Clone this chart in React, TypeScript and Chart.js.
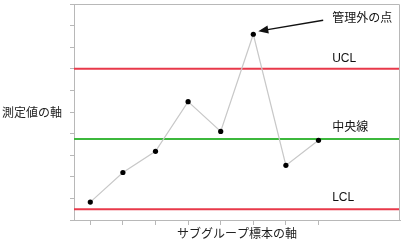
import React, { useEffect, useRef } from "react";
import { Chart, registerables } from "chart.js";

Chart.register(...registerables);

const subgroups = [0.5, 1.5, 2.5, 3.5, 4.5, 5.5, 6.5, 7.5];
const measurements = [0.83, 2.2, 3.18, 5.48, 4.1, 8.6, 2.53, 3.69];
const yTicks = [0, 1, 2, 3, 4, 5, 6, 7, 8, 9, 10];
const UCL = 7;
const CL = 3.75;
const LCL = 0.5;
const xMin = 0;
const xMax = 10;
const outlierIndex = 5;
const labels = { ucl: "UCL", cl: "中央線", lcl: "LCL", outlier: "管理外の点" };
const yTitle = "測定値の軸";
const xTitle = "サブグループ標本の軸";

const FONT = '"Liberation Sans", "Noto Sans CJK JP", sans-serif';

const annotationPlugin = {
  id: "spcAnnotations",
  afterDraw(chart: any) {
    const { ctx, chartArea, scales } = chart;
    const xs = scales.x;
    const ys = scales.y;
    ctx.save();
    // frame top/right
    ctx.strokeStyle = "#b8b8b8";
    ctx.lineWidth = 1;
    ctx.beginPath();
    ctx.moveTo(chartArea.left, chartArea.top + 0.5);
    ctx.lineTo(chartArea.right - 0.5, chartArea.top + 0.5);
    ctx.lineTo(chartArea.right - 0.5, chartArea.bottom);
    ctx.stroke();

    ctx.fillStyle = "#111";
    ctx.font = `12px ${FONT}`;
    ctx.textBaseline = "middle";
    ctx.textAlign = "left";
    const tx = xs.getPixelForValue(7.92);
    ctx.fillText(labels.ucl, tx, ys.getPixelForValue(UCL) - 10.5);
    ctx.fillText(labels.cl, tx, ys.getPixelForValue(CL) - 11.5);
    ctx.fillText(labels.lcl, tx, ys.getPixelForValue(LCL) - 11.5);
    const py = ys.getPixelForValue(measurements[outlierIndex]);
    const px = xs.getPixelForValue(subgroups[outlierIndex]);
    ctx.fillText(labels.outlier, tx, py - 16);

    // arrow
    const sx = tx - 9;
    const sy = py - 14;
    const ex = px + 5;
    const ey = py - 3;
    const ang = Math.atan2(ey - sy, ex - sx);
    ctx.strokeStyle = "#111";
    ctx.lineWidth = 1.3;
    ctx.beginPath();
    ctx.moveTo(sx, sy);
    ctx.lineTo(ex - 8 * Math.cos(ang), ey - 8 * Math.sin(ang));
    ctx.stroke();
    ctx.beginPath();
    ctx.moveTo(ex, ey);
    ctx.lineTo(ex - 10 * Math.cos(ang) + 4 * Math.sin(ang), ey - 10 * Math.sin(ang) - 4 * Math.cos(ang));
    ctx.lineTo(ex - 10 * Math.cos(ang) - 4 * Math.sin(ang), ey - 10 * Math.sin(ang) + 4 * Math.cos(ang));
    ctx.closePath();
    ctx.fillStyle = "#111";
    ctx.fill();

    // axis titles
    ctx.fillStyle = "#222";
    ctx.font = `12px ${FONT}`;
    ctx.textAlign = "left";
    ctx.fillText(yTitle, 2, (chartArea.top + chartArea.bottom) / 2 + 2);
    ctx.textAlign = "center";
    ctx.fillText(xTitle, (chartArea.left + chartArea.right) / 2, 235);
    ctx.restore();
  },
};

export default function App() {
  const ref = useRef<HTMLCanvasElement | null>(null);
  useEffect(() => {
    if (!ref.current) return;
    const hline = (v: number, color: string) => ({
      data: [
        { x: xMin, y: v },
        { x: xMax, y: v },
      ],
      borderColor: color,
      borderWidth: 2,
      pointRadius: 0,
      showLine: true,
      order: 2,
    });
    const chart = new Chart(ref.current, {
      type: "scatter",
      data: {
        datasets: [
          hline(UCL, "#e8394a"),
          hline(CL, "#3cb83c"),
          hline(LCL, "#e8394a"),
          {
            data: subgroups.map((x, i) => ({ x, y: measurements[i] })),
            showLine: true,
            borderColor: "#c8c8c8",
            borderWidth: 1.2,
            pointRadius: 2.6,
            pointBackgroundColor: "#000",
            pointBorderColor: "#000",
            pointBorderWidth: 0,
            order: 1,
          },
        ],
      },
      options: {
        animation: false,
        responsive: false,
        maintainAspectRatio: false,
        layout: { padding: { left: 70, right: 6, top: 4, bottom: 22 } },
        plugins: { legend: { display: false }, tooltip: { enabled: false } },
        scales: {
          x: {
            type: "linear",
            min: xMin,
            max: xMax,
            afterBuildTicks: (s: any) => {
              s.ticks = subgroups.map((v) => ({ value: v }));
            },
            afterFit: (s: any) => {
              s.height = 5;
            },
            ticks: { display: false },
            grid: { drawOnChartArea: false, drawTicks: true, tickLength: 5, color: "#b8b8b8" },
            border: { display: true, color: "#b8b8b8" },
          },
          y: {
            type: "linear",
            min: yTicks[0],
            max: yTicks[yTicks.length - 1],
            afterBuildTicks: (s: any) => {
              s.ticks = yTicks.map((v) => ({ value: v }));
            },
            afterFit: (s: any) => {
              s.width = 4;
            },
            ticks: { display: false },
            grid: { drawOnChartArea: false, drawTicks: true, tickLength: 4, color: "#b8b8b8" },
            border: { display: true, color: "#b8b8b8" },
          },
        },
      },
      plugins: [annotationPlugin],
    });
    return () => chart.destroy();
  }, []);
  return (
    <div style={{ position: "fixed", left: 0, top: 0, width: 406, height: 247, background: "#fff" }}>
      <canvas ref={ref} width={406} height={247} style={{ display: "block" }} />
    </div>
  );
}
